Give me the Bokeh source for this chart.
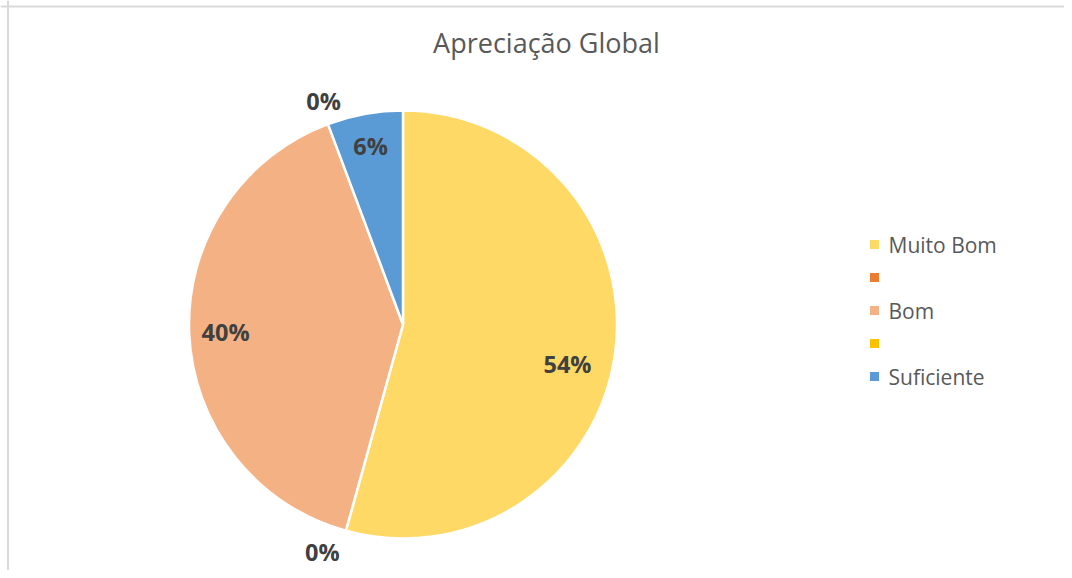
import math
from bokeh.plotting import figure
from bokeh.models import ColumnDataSource, Span, Range1d
from bokeh.core.properties import value
from bokeh.embed import file_html
from bokeh.resources import INLINE

# ---- data ----
categories = ["Muito Bom", "", "Bom", "", "Suficiente"]
shares = [54.3, 0.0, 40.0, 0.0, 5.7]
colors = ["#FFD966", "#ED7D31", "#F4B183", "#FFC000", "#5B9BD5"]
title_text = "Apreciação Global"

# ---- layout (screenshot pixel coordinates) ----
W, H = 1064, 570
label_radius = [0.79, 1.13, 0.83, 1.11, 0.85]      # fraction of pie radius
label_shift_deg = [5.6, 4.0, 0.0, 1.0, 0.0]        # clockwise nudge


def px(X):
    return X


def py(Y):
    return H - Y


CX, CY, R = px(402.5), py(324), 214
FONT = "Open Sans"

p = figure(width=W, height=H, output_backend="svg", toolbar_location=None,
           x_range=Range1d(0, W), y_range=Range1d(0, H),
           min_border=0, tools="")
p.axis.visible = False
p.grid.visible = False
p.outline_line_color = None
p.background_fill_color = "white"
p.border_fill_color = "white"

# chart border (top and left visible)
p.add_layout(Span(location=py(6), dimension="width", line_color="#D9D9D9", line_width=2))
p.add_layout(Span(location=px(7.5), dimension="height", line_color="#D9D9D9", line_width=2))

# ---- wedges ----
total = sum(shares)
cum = 0.0
starts, ends, mids = [], [], []
for s in shares:
    a0 = cum / total
    cum += s
    a1 = cum / total
    starts.append(a0)
    ends.append(a1)
    mids.append((a0 + a1) / 2)

wx, wy, wsa, wea, wc = [], [], [], [], []
for s, a0, a1, c in zip(shares, starts, ends, colors):
    if s <= 0:
        continue
    wsa.append(math.pi / 2 - a1 * 2 * math.pi)
    wea.append(math.pi / 2 - a0 * 2 * math.pi)
    wc.append(c)
    wx.append(CX)
    wy.append(CY)

p.wedge(x="x", y="y", radius=R, radius_units="screen", start_angle="sa", end_angle="ea",
        direction="anticlock", fill_color="c", line_color="white", line_width=2.5,
        source=ColumnDataSource(dict(x=wx, y=wy, sa=wsa, ea=wea, c=wc)))

# ---- data labels ----
lx, ly, lt = [], [], []
for s, m, f, sh in zip(shares, mids, label_radius, label_shift_deg):
    th = m * 2 * math.pi + math.radians(sh)
    lx.append(CX + f * R * math.sin(th))
    ly.append(CY + f * R * math.cos(th))
    lt.append(f"{round(s)}%")

p.text(x="x", y="y", text="t", source=ColumnDataSource(dict(x=lx, y=ly, t=lt)),
       text_font=value(FONT), text_font_size="23.5px", text_font_style="bold",
       text_color="#404040", text_align="center", text_baseline="middle")

# ---- title ----
p.text(x=[px(546)], y=[py(42)], text=[title_text], text_font=value(FONT),
       text_font_size="27px", text_color="#595959", text_align="center",
       text_baseline="middle")

# ---- legend ----
row0, step = 244, 33
gx = [px(874)] * len(categories)
gy = [py(row0 + i * step) for i in range(len(categories))]
p.scatter(x=gx, y=gy, marker="square", size=9, fill_color=colors, line_color=None)
p.text(x=[px(888)] * len(categories), y=gy, text=categories, text_font=value(FONT),
       text_font_size="21px", text_color="#595959", text_align="left",
       text_baseline="middle")

open("out.html", "w").write(file_html(p, INLINE))
